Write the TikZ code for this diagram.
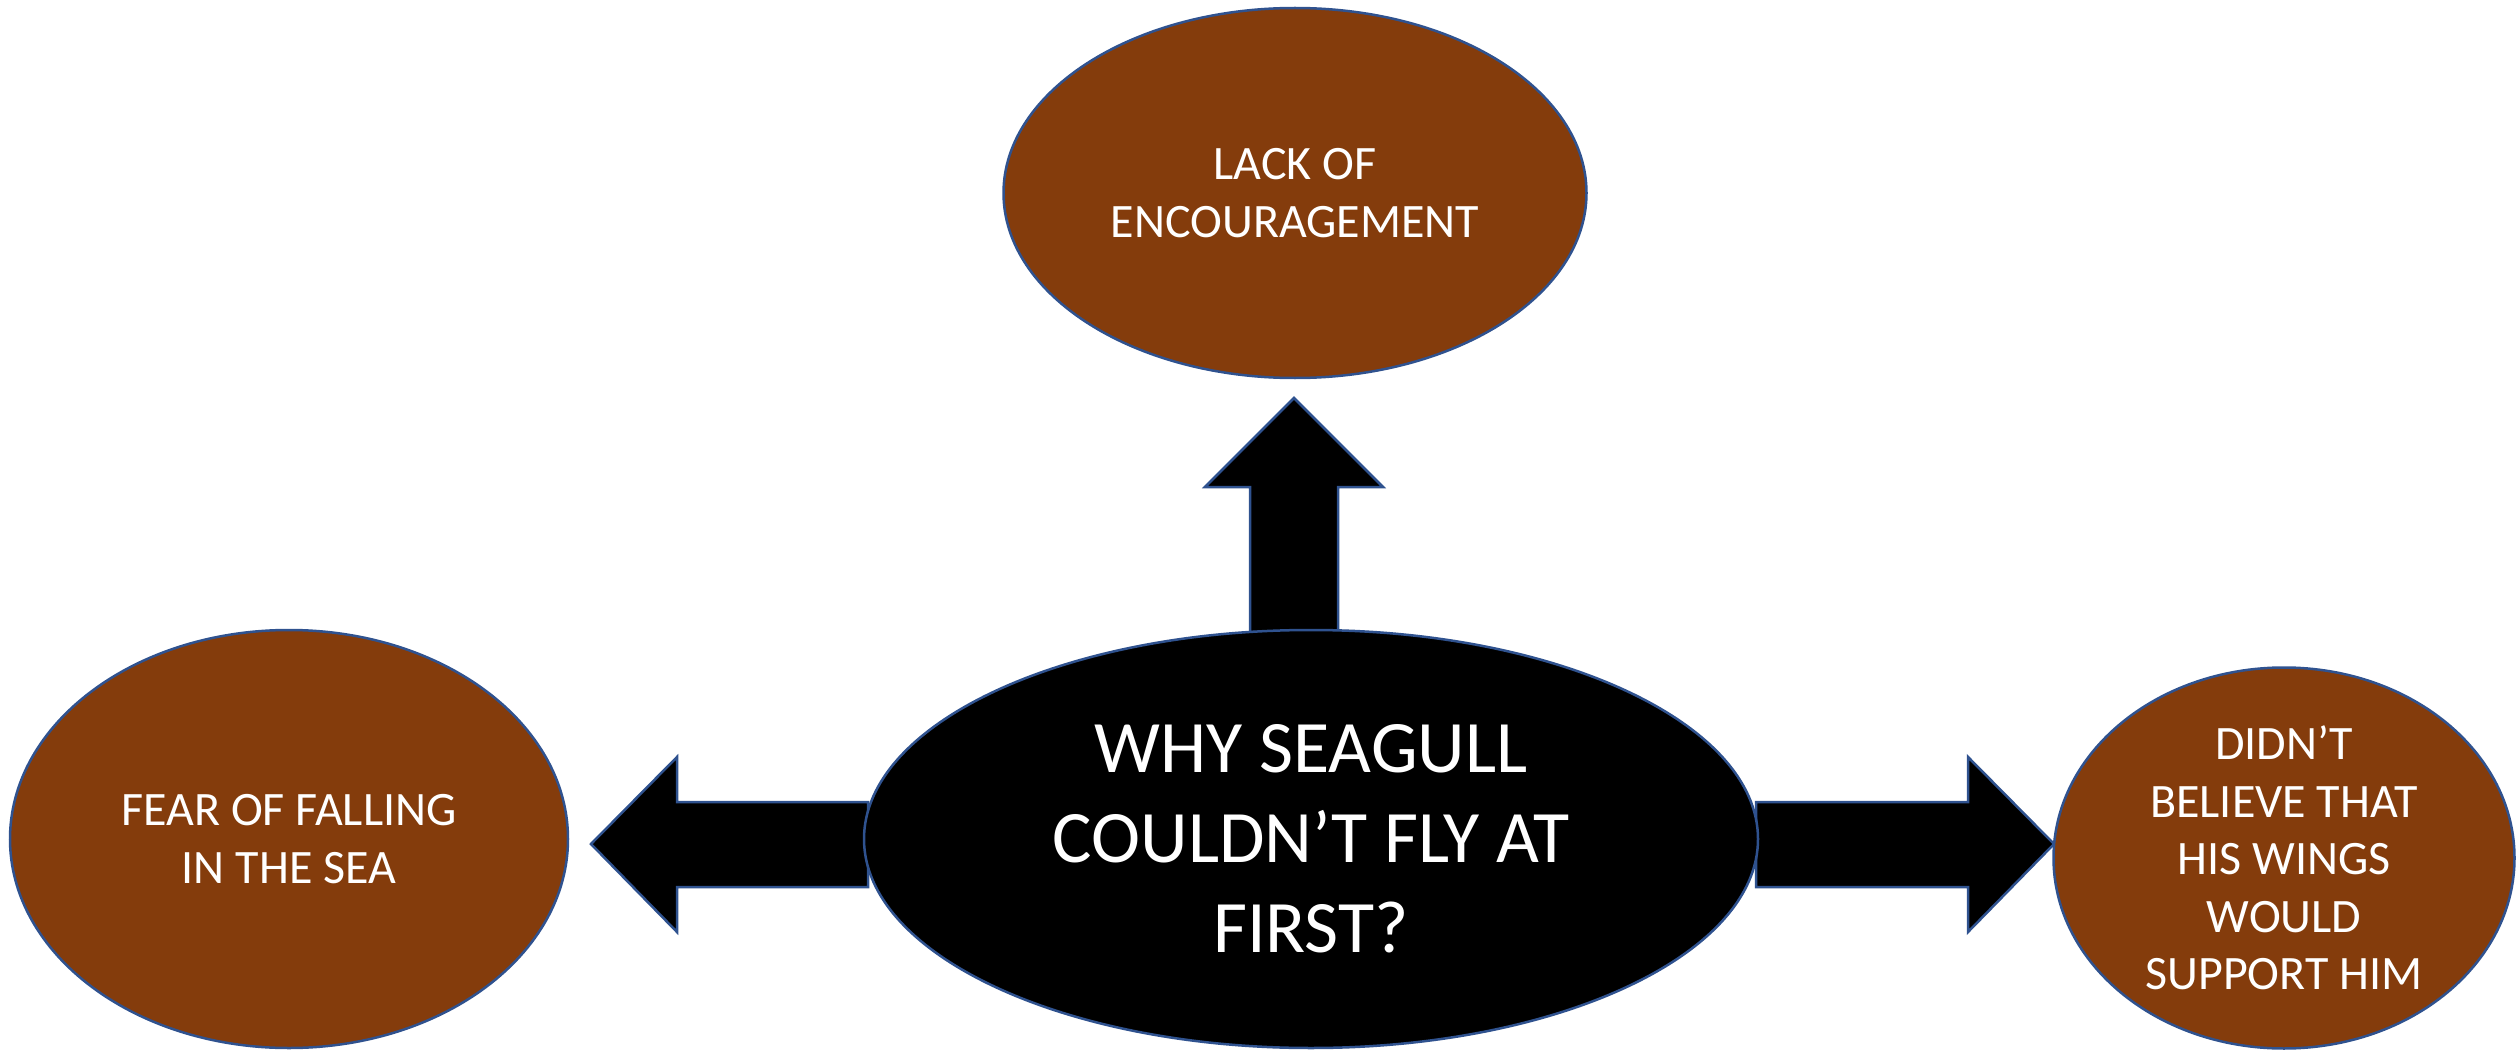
\documentclass[tikz,border=0pt]{standalone}
\usepackage{fontspec}
\setmainfont{Carlito}
\usetikzlibrary{shapes.geometric}
\definecolor{brunfyll}{HTML}{843C0C}
\definecolor{kantblaa}{HTML}{2F528F}
\tikzset{
	aarsak/.style={ellipse,draw=kantblaa,line width=2.5pt,fill=brunfyll,text=white,
		align=center,inner sep=0pt,font=\fontsize{48}{57.5}\selectfont},
	sporsmal/.style={aarsak,fill=black,font=\fontsize{74}{90}\selectfont},
	blokkpil/.style={draw=kantblaa,line width=2.5pt,fill=black,line join=miter}
}
\begin{document}
\begin{tikzpicture}[x=1pt,y=-1pt]
		\useasboundingbox (0,0) rectangle (2517,1051);
		% Blokkpiler ut fra midten
		\coordinate (tippOpp) at (1294,398);
		\coordinate (tippVenstre) at (591,844);
		\coordinate (tippHoyre) at (2054,844);
		\draw[blokkpil] (1250,632) -- (1250,487) -- (1205,487) -- (tippOpp) -- (1383,487) -- (1338,487) -- (1338,632) -- cycle;
		\draw[blokkpil] (868,802) -- (677,802) -- (677,757) -- (tippVenstre) -- (677,932) -- (677,887) -- (868,887) -- cycle;
		\draw[blokkpil] (1756,802) -- (1968,802) -- (1968,757) -- (tippHoyre) -- (1968,932) -- (1968,887) -- (1756,887) -- cycle;
		% Spørsmålet i midten
		\node[sporsmal,minimum width=894pt,minimum height=418pt] (midt) at (1311,839)
			{WHY SEAGULL\\COULDN’T FLY AT\\FIRST?};
		% Årsakene
		\node[aarsak,minimum width=583pt,minimum height=370pt] (mangel) at (1295,193)
			{LACK OF\\ENCOURAGEMENT};
		\node[aarsak,minimum width=558pt,minimum height=418pt] (frykt) at (289,839)
			{FEAR OF FALLING\\IN THE SEA};
		\node[aarsak,minimum width=461pt,minimum height=381pt] (tvil) at (2284,858)
			{DIDN’T\\BELIEVE THAT\\HIS WINGS\\WOULD\\SUPPORT HIM};
	\end{tikzpicture}
\end{document}
